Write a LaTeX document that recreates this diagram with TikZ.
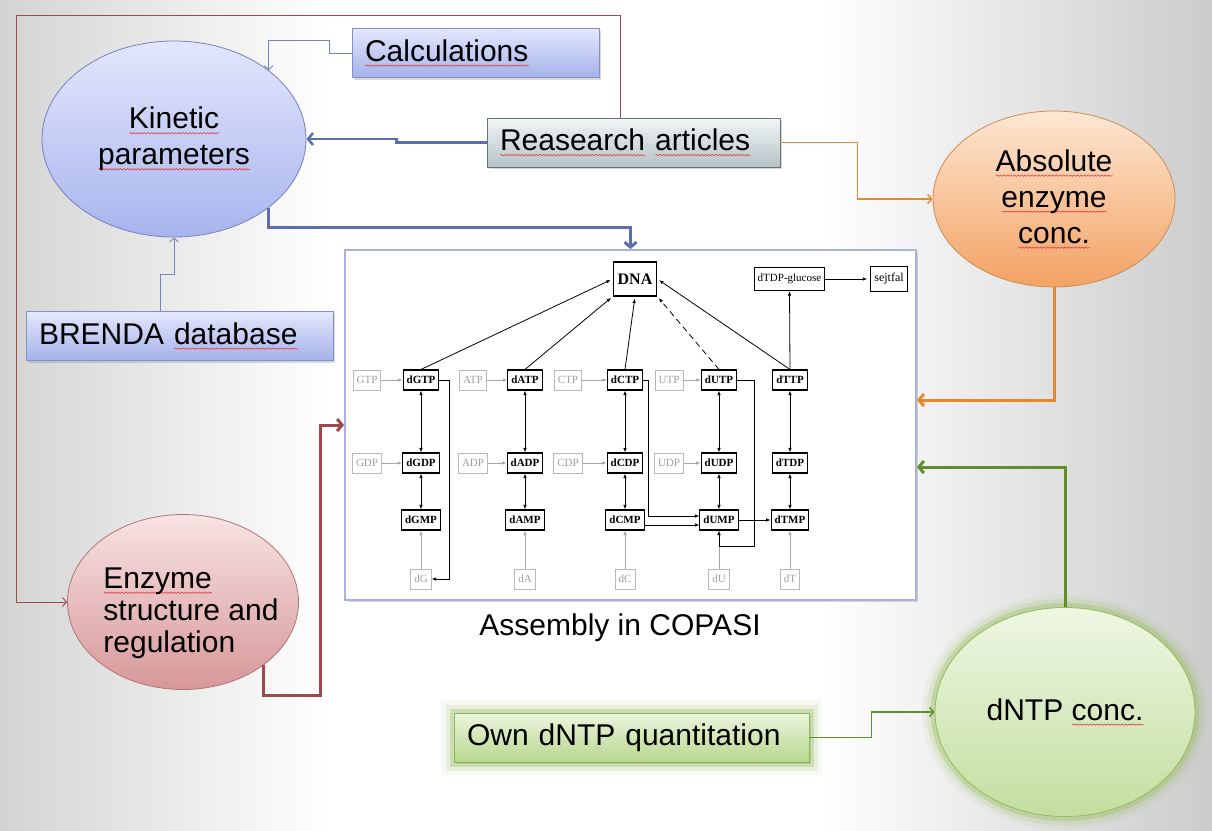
\documentclass[tikz,border=0pt]{standalone}
\usepackage{fontspec}
\setmainfont{Liberation Sans}
\newfontfamily\tms{Liberation Serif}
\usetikzlibrary{arrows.meta,calc,shapes.geometric,shadows,decorations.pathmorphing}

\definecolor{bluetop}{HTML}{E4E7FC}
\definecolor{bluebot}{HTML}{A5B2EA}
\definecolor{blueedge}{HTML}{8391C4}
\definecolor{kintop}{HTML}{E3E7FC}
\definecolor{kinbot}{HTML}{A8B4EE}
\definecolor{kinedge}{HTML}{7282BC}
\definecolor{restop}{HTML}{F1F5F6}
\definecolor{resbot}{HTML}{B6C3C7}
\definecolor{resedge}{HTML}{62747B}
\definecolor{abstop}{HTML}{FDE7D3}
\definecolor{absbot}{HTML}{F3A263}
\definecolor{absedge}{HTML}{C98D58}
\definecolor{enztop}{HTML}{F8E3E3}
\definecolor{enzbot}{HTML}{D7979A}
\definecolor{enzedge}{HTML}{B07575}
\definecolor{dntptop}{HTML}{EEF7E3}
\definecolor{dntpbot}{HTML}{C3DEA0}
\definecolor{dntpedge}{HTML}{93BC55}
\definecolor{owntop}{HTML}{EBF5DE}
\definecolor{ownbot}{HTML}{B8D78E}
\definecolor{ownedge}{HTML}{8DB659}
\definecolor{redline}{HTML}{A0484B}
\definecolor{bluearrow}{HTML}{5A6EB0}
\definecolor{blueline}{HTML}{7385BE}
\definecolor{orangearrow}{HTML}{E5892E}
\definecolor{greenarrow}{HTML}{5E8F2C}
\definecolor{modeledge}{HTML}{A7B3DA}
\definecolor{spellred}{HTML}{E0393E}

% red wavy underline
\newsavebox\spellbox
\newlength\spellwd
\newcommand\spell[1]{\leavevmode\sbox\spellbox{#1}\setlength\spellwd{\wd\spellbox}%
  \rlap{\tikz[baseline=0pt]\draw[spellred, line width=0.6pt, decorate,
    decoration={snake, amplitude=0.7pt, segment length=3.5pt}] (0pt,-4.5pt) -- (\spellwd,-4.5pt);}%
  \usebox\spellbox}

\begin{document}
\begin{tikzpicture}[x=1pt, y=-1pt,
  every node/.style={font=\fontsize{30}{36}\selectfont},
  ell/.style={ellipse, inner sep=0pt, align=center, line width=0.8pt,
    draw=#1edge, top color=#1top, bottom color=#1bot},
  box/.style={rectangle, inner sep=0pt, inner xsep=13pt, align=left,
    minimum height=49pt, line width=0.8pt, draw=#1edge, top color=#1top,
    bottom color=#1bot, drop shadow={opacity=0.3, shadow xshift=2pt, shadow yshift=-2pt}},
  glow/.style={preaction={draw=#1, line width=26pt, opacity=0.08},
    preaction={draw=#1, line width=17pt, opacity=0.14},
    preaction={draw=#1, line width=9pt, opacity=0.3}},
  thinarr/.style={draw=#1, line width=0.9pt, -{Straight Barb[length=4pt,width=9pt]}},
  thickarr/.style={draw=#1, line width=3pt, -{Straight Barb[length=5pt,width=12pt]}},
  dbox/.style={draw, line width=1.1pt, fill=white, inner sep=0pt, inner xsep=3.5pt,
    minimum height=20pt, font=\tms\bfseries\fontsize{11}{13}\selectfont},
  gbox/.style={draw=black!28, line width=0.8pt, fill=white, text=black!38, inner sep=0pt,
    inner xsep=3.5pt, minimum height=20pt, font=\tms\fontsize{11}{13}\selectfont},
  iarr/.style={line width=0.8pt, -{Latex[length=4.5pt,width=3.5pt]}},
  darr/.style={line width=0.8pt, {Latex[length=4.5pt,width=3.5pt]}-{Latex[length=4.5pt,width=3.5pt]}},
  garr/.style={draw=black!35, line width=0.8pt, -{Latex[length=4.5pt,width=3.5pt]}}]

% Background
\fill[white] (0,0) rectangle (1212,830);
\shade[left color=black!17, right color=white] (0,0) rectangle (330,830);
\shade[left color=white, right color=black!20] (820,0) rectangle (1212,830);

% Model box
\node[draw=modeledge, line width=1.8pt, fill=white, minimum width=571pt, minimum height=350pt,
  inner sep=0pt, drop shadow={opacity=0.3, shadow xshift=2pt, shadow yshift=-2pt}] (model) at (630.5,425) {};
\node (asm) at (620,628) {Assembly in COPASI};

% Sources
\node[box=blue, text width=221pt] (calc) at (475.5,53) {\spell{Calculations}};
\node[box=res, text width=267pt] (res) at (633.5,142.5) {\spell{Reasearch} \spell{articles}};
\node[box=blue, text width=281pt] (brenda) at (179.5,336) {BRENDA \spell{database}};
\node[box=own, glow=ownedge, text width=329pt] (own) at (631.5,737.5) {Own dNTP quantitation};

% Parameters
\node[ell=kin, minimum width=264pt, minimum height=196pt] (kin) at (174,139) {\spell{Kinetic}\\\spell{parameters}};
\node[ell=abs, minimum width=242pt, minimum height=176pt] (abs) at (1054,199) {\spell{Absolute}\\\spell{enzyme}\\\spell{conc.}};
\node[ell=enz, minimum width=231pt, minimum height=175pt] (enz) at (183,602) {};
\node[align=left, font=\fontsize{30}{32}\selectfont] (enztext) at (191,613) {\spell{Enzyme}\\structure and\\regulation};
\node[ell=dntp, glow=dntpedge, minimum width=260pt, minimum height=209pt] (dntp) at (1065,712) {dNTP \spell{conc.}};

% Connectors
\coordinate (rtop) at (16,15);
\draw[thinarr=redline] ([xshift=-13.5pt]res.north) |- (rtop) |- (enz.west);
\draw[thinarr=blueline] (calc.west) -- ++(-22,0) -- ++(0,-13) -| (kin.36);
\draw[thinarr=blueline] ([xshift=-19.5pt]brenda.north) -- ++(0,-37) -| (kin.south);
\draw[thickarr=bluearrow, line width=2.5pt] (res.west) -- ++(-90,0) |- (kin.east);
\draw[thickarr=bluearrow] (kin.-36) |- ([yshift=22pt]model.north) -- (model.north);
\draw[thinarr=orangearrow, line width=1.4pt] (res.east) -- ++(77,0) |- (abs.west);
\draw[thickarr=orangearrow] (abs.south) |- ([yshift=25pt]model.east);
\draw[thickarr=greenarrow] (dntp.north) |- ([yshift=-42pt]model.east);
\draw[thinarr=greenarrow, line width=1.4pt] (own.east) -- ++(62,0) |- (dntp.west);
\draw[thickarr=redline] (enz.-38) -- ++(0,30) -- ++(57,0) |- (model.west);

% Pathway
\node[dbox, inner xsep=4.5pt, minimum height=34pt, font=\tms\bfseries\fontsize{16}{18}\selectfont] (DNA) at (635,279) {DNA};
\node[dbox, minimum height=23pt, font=\tms\fontsize{11}{13}\selectfont] (dglc) at (789.5,279) {dTDP-glucose};
\node[dbox, minimum height=25pt, font=\tms\fontsize{12}{14}\selectfont] (wall) at (889,279) {sejtfal};
\foreach \base/\xd/\xg in {G/421/367, A/525/473, C/625/568, U/719/669}{
  \node[dbox] (d\base TP) at (\xd,380) {d\base TP};
  \node[dbox] (d\base DP) at (\xd,463) {d\base DP};
  \node[dbox] (d\base MP) at (\xd,520) {d\base MP};
  \node[gbox] (d\base) at (\xd,579) {d\base};
  \node[gbox] (\base TP) at (\xg,380) {\base TP};
  \node[gbox] (\base DP) at (\xg,463) {\base DP};
  \draw[garr] (\base TP) -- (d\base TP);
  \draw[garr] (\base DP) -- (d\base DP);
  \draw[garr] (d\base) -- (d\base MP);
  \draw[darr] (d\base TP) -- (d\base DP);
  \draw[darr] (d\base DP) -- (d\base MP);
}
\node[dbox] (dTTP) at (790,380) {dTTP};
\node[dbox] (dTDP) at (790,463) {dTDP};
\node[dbox] (dTMP) at (790,520) {dTMP};
\node[gbox] (dT) at (790,579) {dT};
\draw[darr] (dTTP) -- (dTDP);
\draw[darr] (dTDP) -- (dTMP);
\draw[garr] (dT) -- (dTMP);

% To DNA
\draw[iarr, shorten >=2pt] (dGTP.north) -- (DNA.west);
\draw[iarr, shorten >=2pt] (dATP.north) -- (DNA.south west);
\draw[iarr, shorten >=2pt] (dCTP.north) -- (DNA.south);
\draw[iarr, dash pattern=on 6pt off 4pt, shorten >=2pt] (dUTP.north) -- (DNA.south east);
\draw[iarr, shorten >=2pt] (dTTP.north) -- (DNA.east);
\draw[iarr] (dTTP.north) -- (dglc.south);
\draw[iarr, shorten >=3pt] (dglc.east) -- (wall.west);

% Salvage and cross links
\draw[iarr] (dGTP.east) -- ++(10,0) |- (dG.east);
\draw[iarr] (dCTP.east) -- ++(5,0) |- ([yshift=4pt]dUMP.west);
\draw[iarr] ([yshift=-5pt]dCMP.east) -- ([yshift=-5pt]dUMP.west);
\draw[iarr] (dUTP.east) -- ++(17,0) |- ([yshift=-16pt]dUMP.south) -- (dUMP.south);
\draw[iarr] (dUMP) -- (dTMP);
\end{tikzpicture}
\end{document}
